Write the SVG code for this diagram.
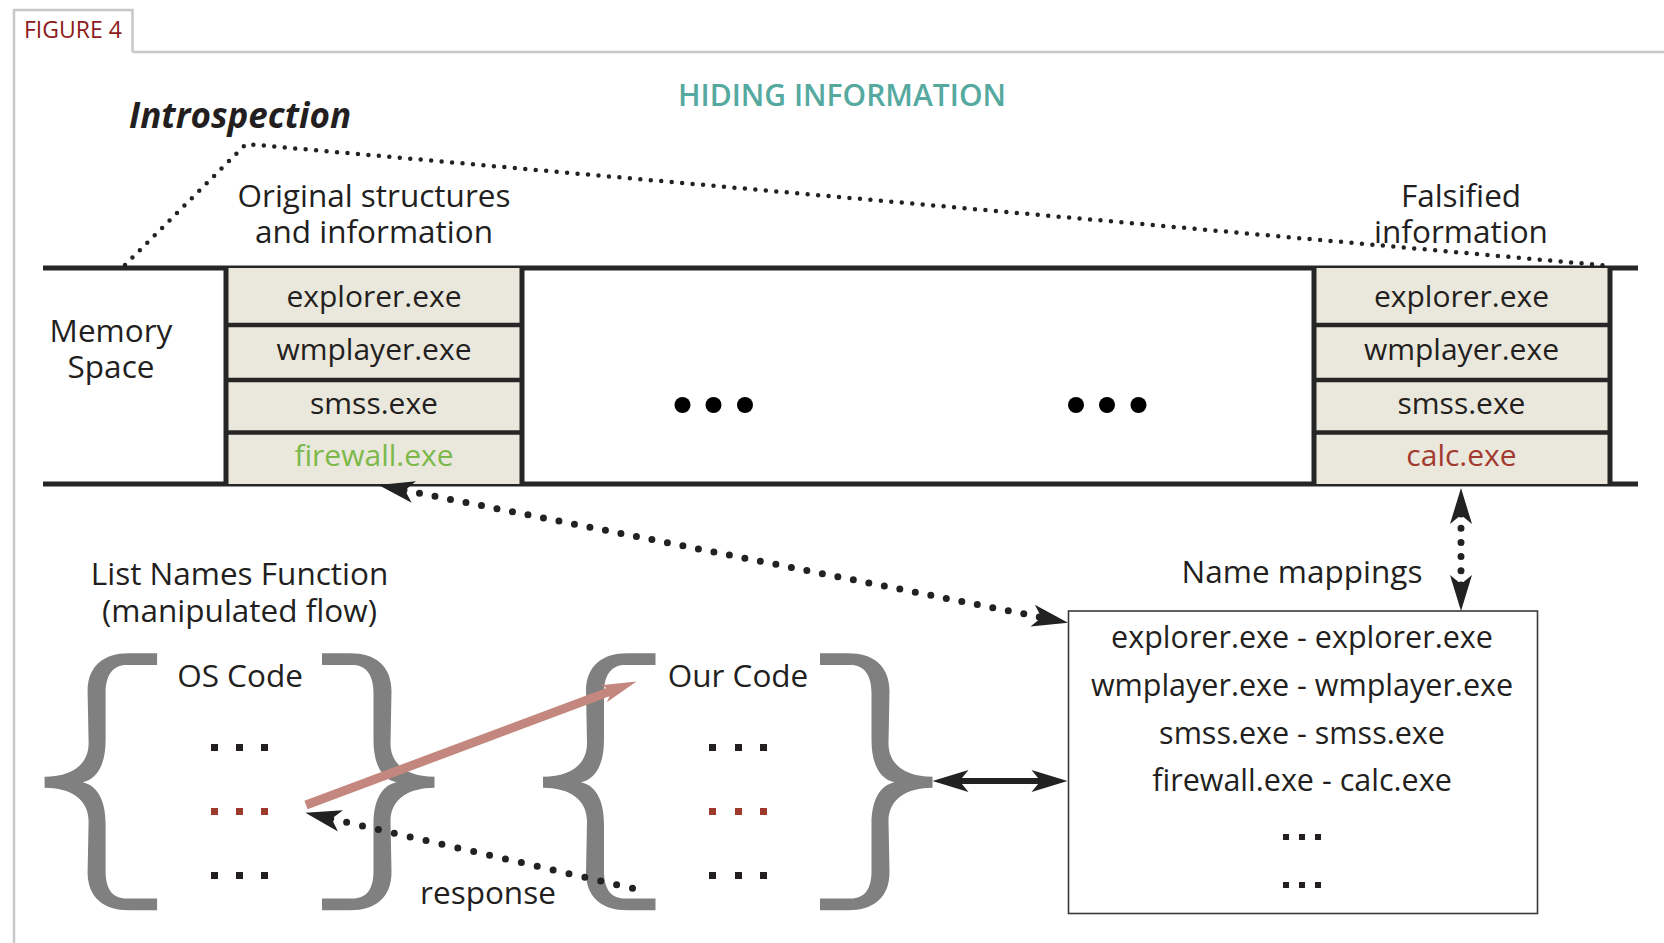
<svg xmlns="http://www.w3.org/2000/svg" width="1664" height="943" viewBox="0 0 1664 943">
<style>
.t{font-family:"Open Sans","Liberation Sans",sans-serif;fill:#231f20}
.c{text-anchor:middle}
.lbl{font-size:31.5px}
.map{font-size:30.5px}
.bx{font-size:30px}
.cell{fill:#eae7dc}
.edge{stroke:#262626;stroke-width:5;fill:none}
.div{stroke:#262626;stroke-width:4.5}
.dotl{fill:none;stroke:#222;stroke-linecap:round}
.brace{fill:#808080}
.sq{fill:#231f20}
.sqr{fill:#9e3a2c}
.frame{fill:none;stroke:#c8c8c8;stroke-width:2.5}
</style>
<defs>
<marker id="ah" viewBox="-37 -12 38 24" refX="-26" refY="0" markerWidth="38" markerHeight="24" markerUnits="userSpaceOnUse" orient="auto-start-reverse">
<path d="M0,0 L-36,-11 L-27,0 L-36,11 Z" fill="#222"/>
</marker>
<marker id="ahr" viewBox="-37 -12 38 24" refX="-24" refY="0" markerWidth="38" markerHeight="24" markerUnits="userSpaceOnUse" orient="auto-start-reverse">
<path d="M0,0 L-35,-9 L-26,0 L-35,9 Z" fill="#c4877f"/>
</marker>
<path id="brace" d="M112.5,0 L84,0 C60,0 43,12 43,38 L44,90 C44,112 26,123.5 0,123.5 L0,134.5 C26,134.5 44,146 44,168 L43,219 C43,245 60,257 84,257 L112.5,257 L112.5,245.3 L82,245.3 C68,245.3 61,236 61,218 L61,171 C61,146 52,132 38,129 C52,126 61,112 61,87 L61,40 C61,22 68,11.7 82,11.7 L112.5,11.7 Z"/>
</defs>
<rect width="1664" height="943" fill="#fff"/>

<g id="frame">
<path class="frame" d="M14,943 L14,10 L132.5,10 L132.5,52 M132.5,52 L1664,52"/>
<text class="t" x="24" y="38" font-size="23" style="fill:#8e1b1b">FIGURE 4</text>
</g>

<g id="title">
<text class="t c" x="842" y="106" font-size="30" font-weight="600" style="fill:#55a99f">HIDING INFORMATION</text>
</g>

<g id="introspection">
<text class="t" x="129" y="128" font-size="35" font-weight="700" font-style="italic">Introspection</text>
</g>

<g id="label-original">
<text class="t c lbl" x="374" y="207">Original structures</text>
<text class="t c lbl" x="374" y="243">and information</text>
</g>

<g id="label-falsified">
<text class="t c lbl" x="1461" y="207">Falsified</text>
<text class="t c lbl" x="1461" y="243">information</text>
</g>

<g id="memory-space">
<text class="t c lbl" x="111" y="342">Memory</text>
<text class="t c lbl" x="111" y="378">Space</text>
<line class="edge" x1="43" y1="268" x2="1638" y2="268"/>
<line class="edge" x1="43" y1="484" x2="1638" y2="484"/>
<circle cx="682.5" cy="405" r="8"/>
<circle cx="713.5" cy="405" r="8"/>
<circle cx="745" cy="405" r="8"/>
<circle cx="1076" cy="405" r="8"/>
<circle cx="1107" cy="405" r="8"/>
<circle cx="1138.5" cy="405" r="8"/>
</g>

<g id="original-structures">
<rect class="cell" x="226" y="268" width="296" height="216"/>
<line class="div" x1="226" y1="325" x2="522" y2="325"/>
<line class="div" x1="226" y1="380" x2="522" y2="380"/>
<line class="div" x1="226" y1="432.5" x2="522" y2="432.5"/>
<line class="edge" x1="226" y1="266" x2="226" y2="486"/>
<line class="edge" x1="522" y1="266" x2="522" y2="486"/>
<text class="t c bx" x="374" y="307">explorer.exe</text>
<text class="t c bx" x="374" y="360">wmplayer.exe</text>
<text class="t c bx" x="374" y="414">smss.exe</text>
<text class="t c bx" x="374" y="466" style="fill:#7cb94a">firewall.exe</text>
</g>

<g id="falsified-structures">
<rect class="cell" x="1314" y="268" width="296" height="216"/>
<line class="div" x1="1314" y1="325" x2="1610" y2="325"/>
<line class="div" x1="1314" y1="380" x2="1610" y2="380"/>
<line class="div" x1="1314" y1="432.5" x2="1610" y2="432.5"/>
<line class="edge" x1="1314" y1="266" x2="1314" y2="486"/>
<line class="edge" x1="1610" y1="266" x2="1610" y2="486"/>
<text class="t c bx" x="1461.5" y="307">explorer.exe</text>
<text class="t c bx" x="1461.5" y="360">wmplayer.exe</text>
<text class="t c bx" x="1461.5" y="414">smss.exe</text>
<text class="t c bx" x="1461.5" y="466" style="fill:#a33a2f">calc.exe</text>
</g>

<g id="list-names-function">
<text class="t c lbl" x="239.5" y="585">List Names Function</text>
<text class="t c lbl" x="239.5" y="622">(manipulated flow)</text>
</g>

<g id="os-code">
<use href="#brace" class="brace" transform="translate(44.6,653.3)"/>
<use href="#brace" class="brace" transform="translate(434.5,653.3) scale(-1,1)"/>
<text class="t c lbl" x="240" y="687">OS Code</text>
<rect class="sq" x="211" y="744" width="7" height="7"/>
<rect class="sq" x="236" y="744" width="7" height="7"/>
<rect class="sq" x="261" y="744" width="7" height="7"/>
<rect class="sqr" x="211" y="808" width="7" height="7"/>
<rect class="sqr" x="236" y="808" width="7" height="7"/>
<rect class="sqr" x="261" y="808" width="7" height="7"/>
<rect class="sq" x="211" y="872" width="7" height="7"/>
<rect class="sq" x="236" y="872" width="7" height="7"/>
<rect class="sq" x="261" y="872" width="7" height="7"/>
</g>

<g id="our-code">
<use href="#brace" class="brace" transform="translate(543,653.3)"/>
<use href="#brace" class="brace" transform="translate(932.5,653.3) scale(-1,1)"/>
<text class="t c lbl" x="738" y="687">Our Code</text>
<rect class="sq" x="709" y="744" width="7" height="7"/>
<rect class="sq" x="735" y="744" width="7" height="7"/>
<rect class="sq" x="760" y="744" width="7" height="7"/>
<rect class="sqr" x="709" y="808" width="7" height="7"/>
<rect class="sqr" x="735" y="808" width="7" height="7"/>
<rect class="sqr" x="760" y="808" width="7" height="7"/>
<rect class="sq" x="709" y="872" width="7" height="7"/>
<rect class="sq" x="735" y="872" width="7" height="7"/>
<rect class="sq" x="760" y="872" width="7" height="7"/>
</g>

<g id="name-mappings">
<text class="t c lbl" x="1302" y="583">Name mappings</text>
<rect x="1068.5" y="611" width="469" height="302.5" fill="#fff" stroke="#3a3a3a" stroke-width="1.6"/>
<text class="t c map" x="1302" y="648">explorer.exe - explorer.exe</text>
<text class="t c map" x="1302" y="696">wmplayer.exe - wmplayer.exe</text>
<text class="t c map" x="1302" y="744">smss.exe - smss.exe</text>
<text class="t c map" x="1302" y="791">firewall.exe - calc.exe</text>
<rect class="sq" x="1283" y="834" width="6" height="6"/>
<rect class="sq" x="1299" y="834" width="6" height="6"/>
<rect class="sq" x="1315" y="834" width="6" height="6"/>
<rect class="sq" x="1283" y="882" width="6" height="6"/>
<rect class="sq" x="1299" y="882" width="6" height="6"/>
<rect class="sq" x="1315" y="882" width="6" height="6"/>
</g>

<g id="response-label">
<text class="t c lbl" x="488" y="904">response</text>
</g>

<g id="connectors">
<polyline class="dotl" points="125,265 246,144 1611,266" stroke-width="4.5" stroke-dasharray="0 10.5"/>
<path class="dotl" d="M404,490.1 L1042.5,617.6" stroke-width="7" stroke-dasharray="0 15.8" marker-start="url(#ah)" marker-end="url(#ah)"/>
<path class="dotl" d="M1461,514 L1461,585" stroke-width="7" stroke-dasharray="0 14.2" marker-start="url(#ah)" marker-end="url(#ah)"/>
<path class="dotl" d="M632.5,888.3 L330.7,818.6" stroke-width="7" stroke-dasharray="0 16.3" marker-end="url(#ah)"/>
<path d="M306,805 L614,689.9" fill="none" stroke="#c4877f" stroke-width="9" marker-end="url(#ahr)"/>
<path d="M958.5,781 L1041.5,781" fill="none" stroke="#222" stroke-width="6" marker-start="url(#ah)" marker-end="url(#ah)"/>
</g>
</svg>
